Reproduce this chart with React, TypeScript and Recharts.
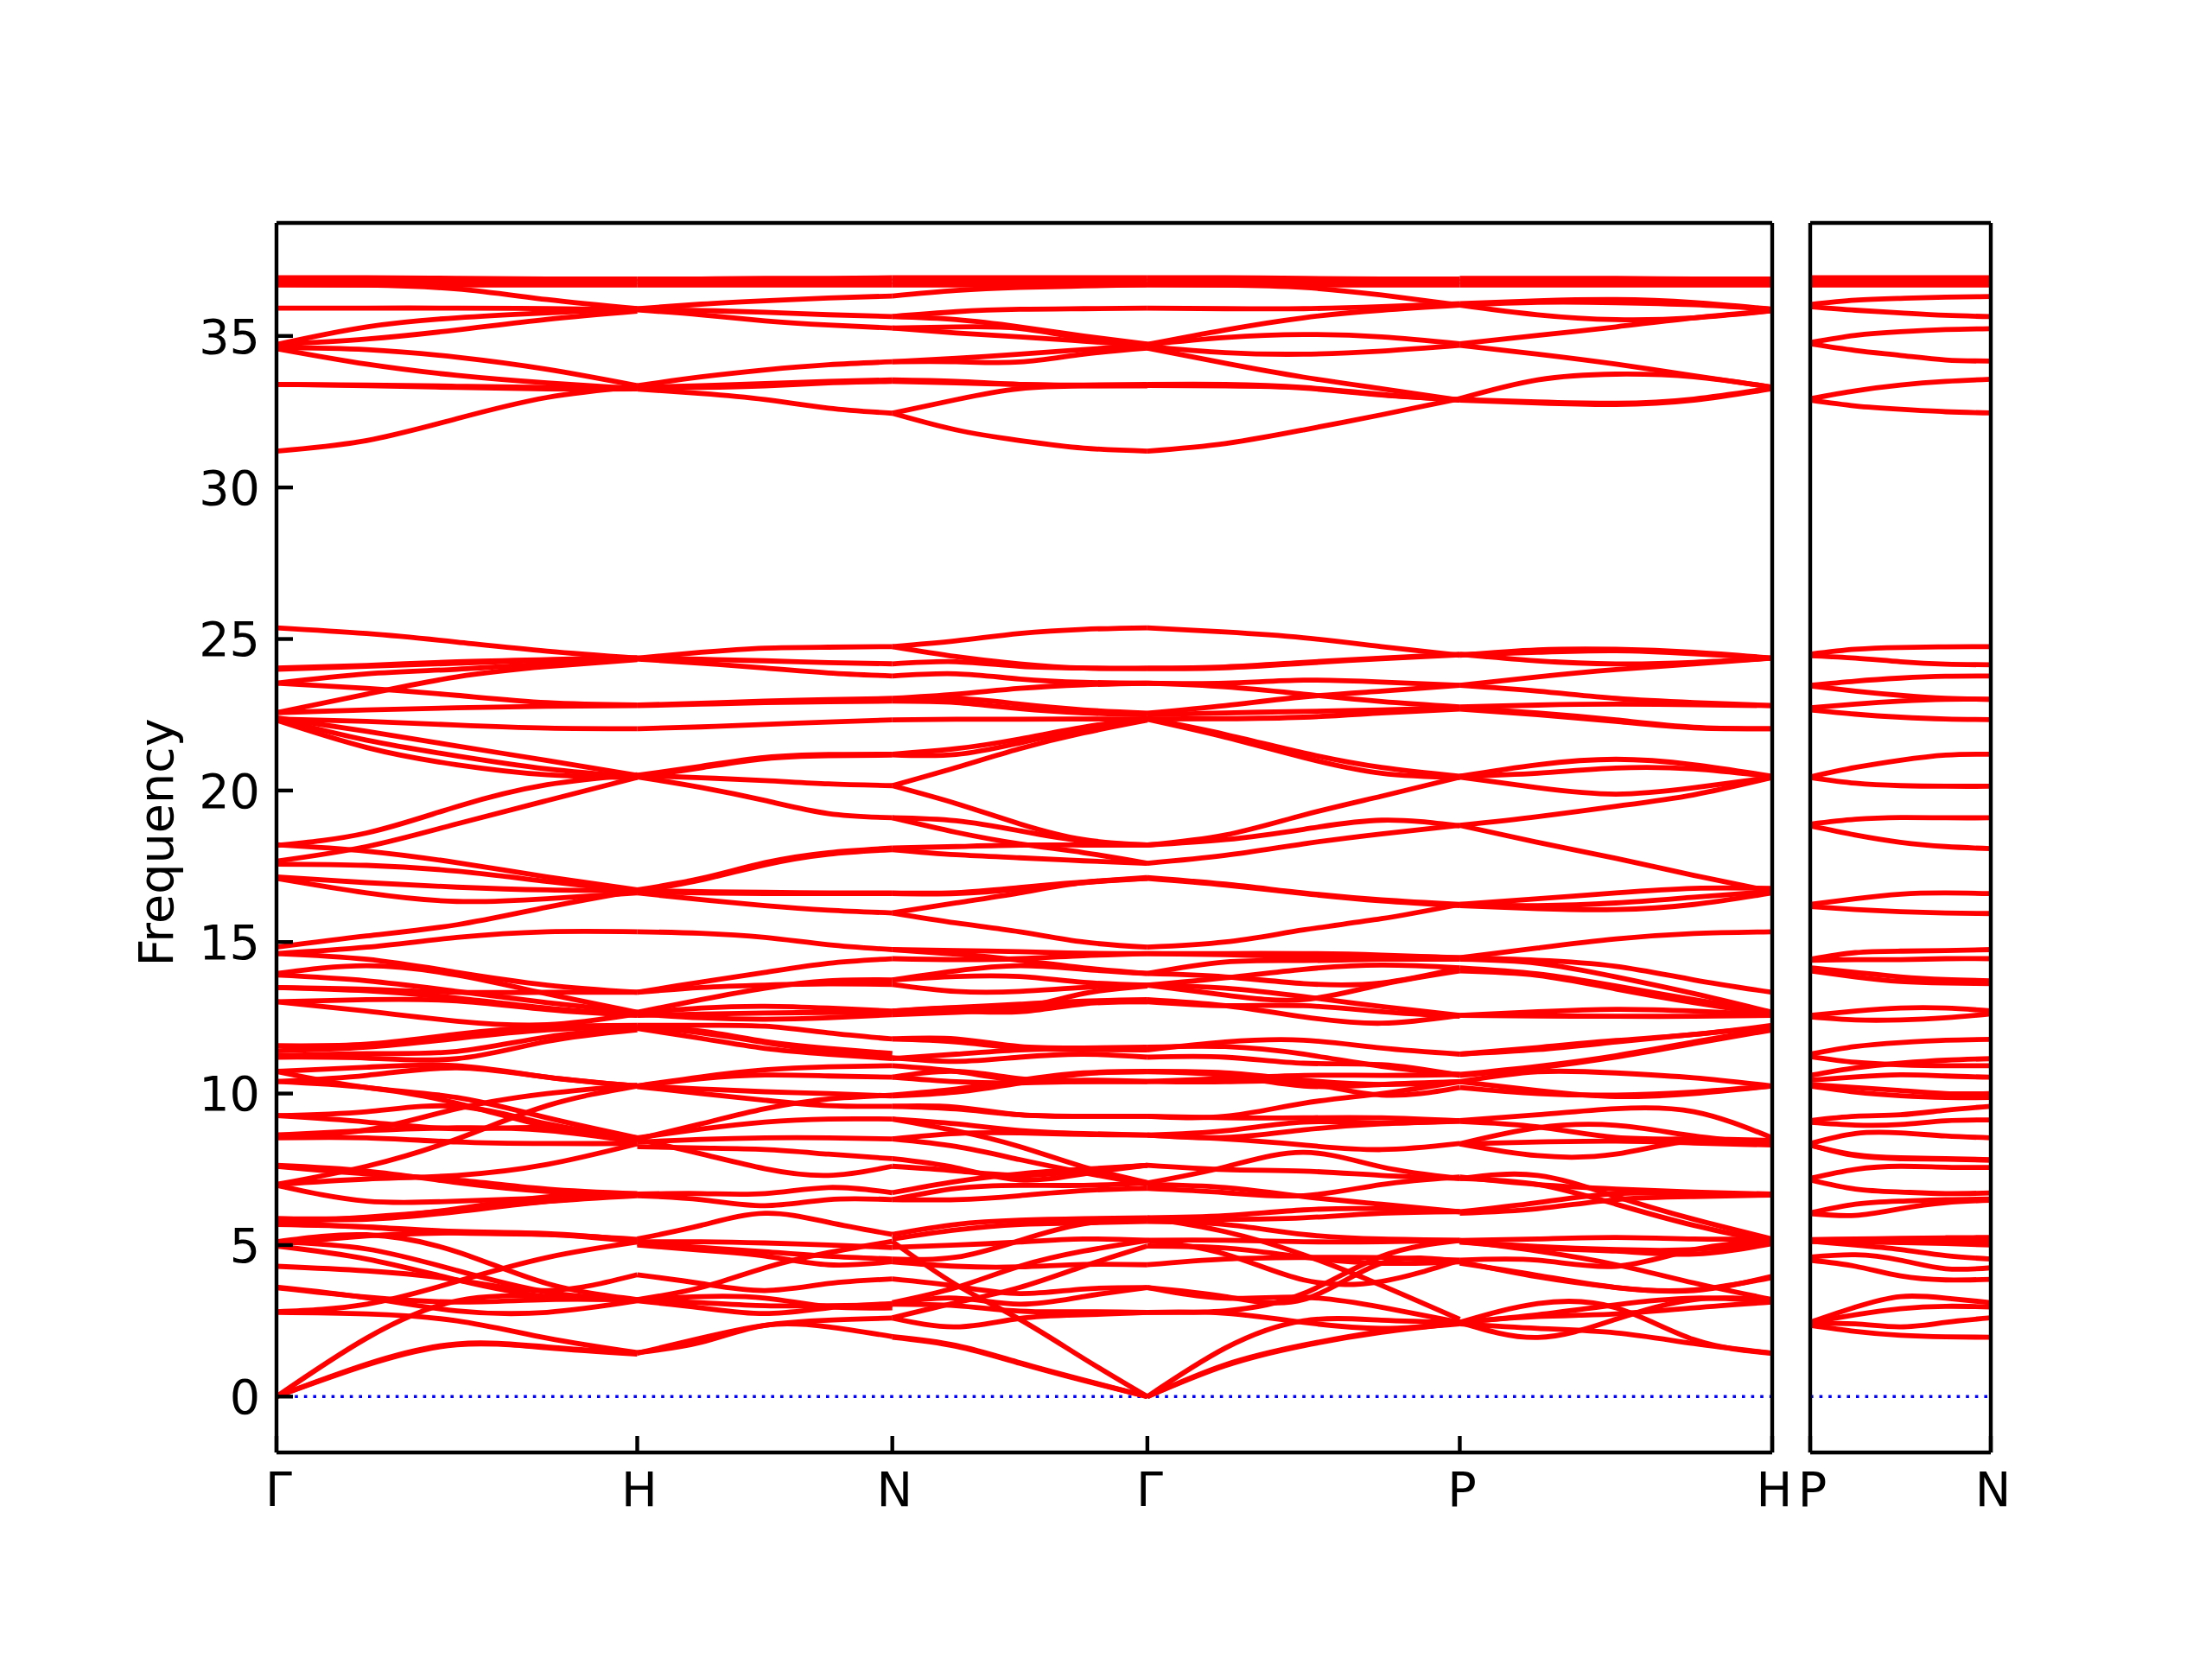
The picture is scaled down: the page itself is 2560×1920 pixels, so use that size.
import { LineChart, Line, XAxis, YAxis, Label } from 'recharts'

// k-path distances (2pi/a units)
const mainTicks = [0, 1, 1.707, 2.414, 3.28, 4.146]
const mainLabels = ['Γ', 'H', 'N', 'Γ', 'P', 'H']
const sideTicks = [0, 0.5]
const sideLabels = ['P', 'N']
const freqTicks = [0, 5, 10, 15, 20, 25, 30, 35]

const kGammaH = [0, 0.25, 0.5, 0.75, 1]
const kHN = [1, 1.177, 1.354, 1.53, 1.707]
const kNGamma = [1.707, 1.884, 2.06, 2.237, 2.414]
const kGammaP = [2.414, 2.63, 2.847, 3.063, 3.28]
const kPH = [3.28, 3.496, 3.713, 3.929, 4.146]
const kPN = [0, 0.125, 0.25, 0.375, 0.5]

const bandsGammaH = [
  [36.92, 36.92, 36.9, 36.88, 36.88], [36.8, 36.8, 36.8, 36.8, 36.8], [36.68, 36.68, 36.68, 36.68, 36.68], [36.7, 36.68, 36.55, 36.2, 35.9],
  [35.92, 35.92, 35.92, 35.9, 35.87], [34.72, 35.3, 35.6, 35.76, 35.9], [34.72, 34.9, 35.2, 35.55, 35.82],
  [34.62, 34.55, 34.3, 33.9, 33.36], [34.58, 34.07, 33.7, 33.45, 33.26], [33.4, 33.36, 33.3, 33.25, 33.25],
  [33.4, 33.38, 33.34, 33.3, 33.3], [31.2, 31.55, 32.27, 32.97, 33.33],
  [25.37, 25.18, 24.9, 24.6, 24.37], [24.04, 24.13, 24.25, 24.32, 24.38], [24.0, 24.1, 24.2, 24.3, 24.36],
  [23.54, 23.85, 24.0, 24.18, 24.33], [22.57, 23.18, 23.75, 24.09, 24.32], [23.54, 23.37, 23.14, 22.9, 22.82],
  [22.57, 22.66, 22.73, 22.78, 22.8], [22.36, 22.28, 22.16, 22.06, 22.04], [22.4, 21.95, 21.47, 20.99, 20.5],
  [22.36, 21.66, 21.14, 20.71, 20.45], [22.32, 21.42, 20.85, 20.52, 20.42], [18.19, 18.6, 19.47, 20.19, 20.52],
  [17.67, 18.15, 18.9, 19.67, 20.43], [18.21, 18.0, 17.62, 17.15, 16.72], [17.57, 17.53, 17.34, 17.0, 16.67],
  [17.15, 16.96, 16.81, 16.72, 16.7], [17.1, 16.62, 16.34, 16.43, 16.62], [14.83, 15.2, 15.57, 16.15, 16.7],
  [14.62, 14.83, 15.15, 15.34, 15.34], [14.62, 14.43, 14.0, 13.58, 13.34], [13.96, 14.22, 13.91, 13.29, 12.68],
  [13.91, 13.72, 13.37, 13.0, 12.68], [13.5, 13.44, 13.34, 13.34, 13.34], [13.5, 13.39, 13.15, 12.82, 12.58],
  [13.03, 13.1, 13.06, 12.77, 12.58], [13.03, 12.72, 12.39, 12.27, 12.63], [11.58, 11.63, 11.96, 12.2, 12.25],
  [11.41, 11.53, 11.82, 12.1, 12.2], [11.25, 11.32, 11.39, 11.87, 12.15], [11.2, 11.17, 11.15, 11.72, 12.1],
  [10.73, 10.87, 10.92, 10.54, 10.25], [10.4, 10.6, 10.85, 10.54, 10.25], [10.73, 10.2, 9.87, 9.2, 8.54],
  [10.4, 10.2, 9.68, 8.92, 8.45], [9.27, 9.4, 9.58, 9.0, 8.54], [9.27, 9.06, 8.84, 8.87, 8.49],
  [8.63, 8.8, 9.5, 10.0, 10.28], [7.0, 7.6, 8.5, 9.6, 10.25], [8.63, 8.78, 8.87, 8.78, 8.4], [8.54, 8.54, 8.4, 8.35, 8.35],
  [7.0, 7.18, 7.3, 7.66, 8.34], [6.97, 6.45, 6.45, 6.55, 6.67], [7.63, 7.44, 7.06, 6.77, 6.68], [7.6, 7.35, 7.15, 6.85, 6.7],
  [5.87, 5.9, 6.2, 6.59, 6.68], [5.73, 5.92, 6.16, 6.44, 6.63], [5.87, 5.85, 6.1, 6.44, 6.66], [5.68, 5.59, 5.4, 5.35, 5.11],
  [5.7, 5.6, 5.45, 5.38, 5.15], [5.03, 5.3, 5.4, 5.35, 5.19], [5.11, 5.34, 4.78, 3.73, 3.2], [5.11, 4.87, 4.16, 3.45, 3.19],
  [4.97, 4.54, 3.85, 3.3, 3.2], [4.3, 4.15, 3.85, 3.5, 4.02], [3.59, 3.28, 3.12, 3.2, 3.2], [3.61, 3.26, 2.83, 2.78, 3.16],
  [2.8, 3.05, 3.8, 4.59, 5.1], [2.78, 2.73, 2.5, 1.93, 1.45], [0, 1.93, 3.16, 3.3, 3.19], [0, 1.07, 1.74, 1.64, 1.43], [0, 1.04, 1.71, 1.61, 1.4],
]

const bandsHN = [
  [36.88, 36.88, 36.9, 36.9, 36.92], [36.8, 36.8, 36.8, 36.8, 36.8], [36.68, 36.68, 36.68, 36.68, 36.68], [35.9, 36.05, 36.16, 36.25, 36.32],
  [35.88, 35.84, 35.78, 35.7, 35.64], [35.86, 35.7, 35.5, 35.36, 35.26], [33.36, 33.65, 33.88, 34.05, 34.15],
  [33.3, 33.36, 33.43, 33.5, 33.55], [33.28, 33.3, 33.35, 33.45, 33.5], [33.25, 33.1, 32.9, 32.62, 32.45],
  [24.37, 24.56, 24.7, 24.73, 24.75], [24.37, 24.33, 24.28, 24.22, 24.18], [24.34, 24.2, 24.04, 23.88, 23.78],
  [22.82, 22.88, 22.95, 23.0, 23.04], [22.8, 22.85, 22.9, 22.93, 22.95], [22.04, 22.1, 22.18, 22.26, 22.33],
  [20.5, 20.8, 21.09, 21.19, 21.2], [20.45, 20.75, 21.05, 21.15, 21.17], [20.5, 20.42, 20.33, 20.22, 20.16],
  [20.45, 20.1, 19.67, 19.24, 19.1], [16.72, 17.1, 17.62, 17.95, 18.1], [16.67, 17.05, 17.55, 17.9, 18.05],
  [16.7, 16.66, 16.64, 16.62, 16.62], [16.65, 16.62, 16.6, 16.6, 16.6], [16.62, 16.4, 16.2, 16.05, 15.96],
  [15.34, 15.29, 15.15, 14.91, 14.75], [13.34, 13.68, 14.0, 14.3, 14.45], [12.68, 13.1, 13.48, 13.72, 13.75],
  [13.34, 13.5, 13.58, 13.62, 13.6], [12.65, 12.82, 12.88, 12.82, 12.72], [12.63, 12.5, 12.45, 12.5, 12.6], [12.58, 12.62, 12.66, 12.67, 12.67],
  [12.15, 11.82, 11.49, 11.3, 11.15], [12.2, 12.0, 11.68, 11.39, 11.18], [12.25, 12.25, 12.22, 12.0, 11.8], [12.2, 12.06, 11.72, 11.49, 11.32],
  [10.25, 10.49, 10.61, 10.58, 10.54], [10.25, 10.55, 10.78, 10.88, 10.92], [10.23, 10.0, 9.78, 9.6, 9.58], [10.25, 10.15, 10.06, 10.0, 9.92],
  [8.5, 9.0, 9.5, 9.82, 9.95], [8.54, 8.83, 9.06, 9.16, 9.16], [8.4, 8.49, 8.54, 8.54, 8.5],
  [8.49, 8.01, 7.52, 7.3, 7.6], [8.25, 8.2, 8.15, 8.0, 7.85],
  [6.68, 6.7, 6.7, 6.9, 6.73], [6.63, 6.5, 6.3, 6.5, 6.5], [5.2, 5.65, 6.05, 5.75, 5.35], [5.11, 5.11, 5.07, 5.0, 4.92],
  [5.05, 4.92, 4.78, 4.63, 4.54], [5.0, 4.83, 4.64, 4.35, 4.45], [3.2, 3.6, 4.25, 4.75, 5.12], [4.02, 3.73, 3.5, 3.73, 3.88],
  [3.16, 2.93, 2.74, 2.93, 3.07], [3.2, 3.3, 3.25, 2.97, 2.93], [3.19, 3.1, 3.0, 3.0, 3.02], [1.45, 1.79, 2.35, 2.3, 1.98], [1.43, 1.93, 2.35, 2.52, 2.59],
]

const bandsNGamma = [
  [36.92, 36.92, 36.92, 36.92, 36.92], [36.8, 36.8, 36.8, 36.8, 36.8], [36.68, 36.68, 36.68, 36.68, 36.68], [36.32, 36.5, 36.6, 36.65, 36.7],
  [35.64, 35.8, 35.88, 35.9, 35.92], [35.64, 35.54, 35.3, 35.0, 34.73], [35.26, 35.3, 35.25, 34.92, 34.72],
  [35.26, 35.1, 34.97, 34.83, 34.68], [34.15, 34.26, 34.4, 34.55, 34.7], [34.15, 34.15, 34.14, 34.4, 34.6],
  [33.55, 33.5, 33.4, 33.38, 33.4], [33.5, 33.45, 33.4, 33.36, 33.35], [32.45, 32.9, 33.26, 33.35, 33.37], [32.45, 31.9, 31.55, 31.3, 31.2],
  [24.75, 24.94, 25.18, 25.32, 25.37], [24.75, 24.42, 24.18, 24.04, 24.04], [24.18, 24.25, 24.1, 24.04, 24.02],
  [23.78, 23.85, 23.68, 23.57, 23.54], [23.04, 23.18, 23.37, 23.49, 23.54], [23.0, 23.04, 22.85, 22.66, 22.55],
  [22.95, 22.9, 22.7, 22.56, 22.5], [22.33, 22.35, 22.35, 22.36, 22.36], [21.2, 21.38, 21.7, 22.09, 22.38], [21.18, 21.19, 21.57, 22.0, 22.35],
  [20.16, 20.76, 21.38, 21.9, 22.32], [19.1, 19.0, 18.67, 18.33, 18.2], [19.1, 18.62, 18.24, 17.95, 17.6], [20.16, 19.57, 18.9, 18.38, 18.2],
  [18.1, 18.15, 18.2, 18.2, 18.2], [18.05, 17.88, 17.78, 17.68, 17.6], [16.62, 16.63, 16.8, 16.98, 17.13], [16.6, 16.6, 16.75, 16.96, 17.1],
  [15.96, 16.29, 16.62, 16.96, 17.1], [15.96, 15.63, 15.34, 15.0, 14.83],
  [14.75, 14.72, 14.68, 14.63, 14.62], [14.45, 14.42, 14.45, 14.55, 14.62], [14.75, 14.6, 14.4, 14.15, 13.96], [13.75, 14.05, 14.22, 14.1, 13.96],
  [13.75, 13.86, 13.86, 13.67, 13.58], [13.6, 13.37, 13.37, 13.5, 13.58], [12.72, 12.83, 12.85, 13.3, 13.55], [12.72, 12.84, 12.95, 13.05, 13.1],
  [12.67, 12.72, 12.7, 12.96, 13.03], [12.6, 12.68, 12.8, 13.0, 13.03], [11.8, 11.8, 11.55, 11.5, 11.46], [11.8, 11.7, 11.5, 11.45, 11.44],
  [11.15, 11.3, 11.44, 11.5, 11.53], [11.18, 11.06, 11.2, 11.3, 11.2], [10.92, 10.73, 10.44, 10.44, 10.39], [10.54, 10.73, 10.49, 10.39, 10.4],
  [10.54, 10.39, 10.35, 10.4, 10.4], [9.95, 10.15, 10.44, 10.68, 10.73], [9.92, 10.05, 10.35, 10.65, 10.72],
  [9.58, 9.55, 9.3, 9.25, 9.25], [9.58, 9.49, 9.3, 9.25, 9.25], [9.16, 8.77, 8.25, 7.58, 7.06], [9.16, 9.0, 8.78, 8.68, 8.63], [8.5, 8.68, 8.7, 8.65, 8.63],
  [8.5, 8.25, 7.82, 7.39, 7.0], [7.85, 7.55, 7.15, 7.35, 7.63], [7.6, 7.45, 7.3, 7.45, 7.63], [6.73, 7.1, 7.35, 7.5, 7.63], [6.5, 6.87, 6.97, 6.97, 7.05], [6.5, 6.5, 6.63, 6.8, 6.87],
  [5.35, 5.68, 5.82, 5.87, 5.9], [5.2, 5.5, 5.68, 5.73, 5.78], [4.54, 4.6, 5.15, 5.7, 5.86], [4.92, 5.0, 5.1, 5.2, 5.16], [4.45, 4.3, 4.28, 4.36, 4.35],
  [3.1, 3.6, 4.3, 4.8, 5.15], [2.6, 3.1, 3.6, 4.3, 4.97], [3.88, 3.64, 3.4, 3.55, 3.6], [3.07, 3.25, 3.05, 3.3, 3.6],
  [3.05, 3.0, 2.82, 2.8, 2.78], [2.59, 2.3, 2.58, 2.7, 2.78], [5.12, 3.69, 2.55, 1.26, 0], [1.98, 1.69, 1.12, 0.55, 0], [1.96, 1.66, 1.1, 0.53, 0],
]

const bandsGammaP = [
  [36.92, 36.92, 36.9, 36.88, 36.88], [36.8, 36.8, 36.8, 36.8, 36.8], [36.68, 36.68, 36.68, 36.68, 36.68], [36.7, 36.68, 36.6, 36.35, 36.02],
  [35.92, 35.9, 35.9, 35.97, 36.07], [34.72, 35.2, 35.6, 35.85, 36.02], [34.72, 34.95, 35.05, 34.97, 34.74],
  [34.65, 34.45, 34.4, 34.5, 34.69], [34.6, 34.1, 33.64, 33.26, 32.88], [33.4, 33.4, 33.3, 33.07, 32.88],
  [33.37, 33.35, 33.28, 33.05, 32.9], [31.2, 31.45, 31.9, 32.4, 32.93],
  [25.37, 25.23, 25.04, 24.75, 24.46], [24.04, 24.08, 24.23, 24.37, 24.5], [24.02, 24.05, 24.2, 24.35, 24.48],
  [23.54, 23.54, 23.64, 23.58, 23.47], [23.54, 23.42, 23.18, 22.94, 22.76], [22.55, 22.8, 23.09, 23.28, 23.47],
  [22.5, 22.56, 22.61, 22.66, 22.73], [22.36, 22.37, 22.42, 22.56, 22.69], [22.38, 21.85, 21.24, 20.76, 20.47], [22.35, 21.76, 21.09, 20.57, 20.43],
  [18.2, 18.53, 19.19, 19.81, 20.44], [18.2, 18.38, 18.72, 19.02, 18.83], [17.6, 17.86, 18.24, 18.57, 18.85],
  [17.13, 16.91, 16.62, 16.39, 16.24], [17.1, 16.88, 16.6, 16.36, 16.2], [14.83, 15.0, 15.4, 15.77, 16.24],
  [14.62, 14.58, 14.53, 14.53, 14.48], [14.62, 14.62, 14.62, 14.57, 14.48], [13.96, 14.34, 14.39, 14.43, 14.43], [13.96, 13.85, 13.63, 13.65, 14.14],
  [13.58, 13.82, 14.1, 14.24, 14.15], [13.58, 13.48, 13.2, 12.87, 12.58], [13.58, 13.25, 13.1, 13.6, 14.05], [13.1, 12.9, 12.53, 12.32, 12.58], [13.03, 12.9, 12.9, 12.7, 12.55],
  [11.44, 11.7, 11.76, 11.5, 11.3], [11.53, 11.55, 11.3, 10.9, 10.63], [11.2, 11.2, 11.0, 10.95, 10.6], [10.4, 10.5, 10.6, 10.6, 10.63], [10.4, 10.39, 10.35, 9.95, 10.2],
  [10.73, 10.68, 10.44, 10.3, 10.39], [10.72, 10.6, 10.25, 10.3, 10.39], [9.25, 9.25, 9.68, 10.0, 10.39], [9.25, 9.2, 9.2, 9.2, 9.1],
  [8.63, 8.77, 9.06, 9.03, 9.11], [8.63, 8.55, 8.8, 9.0, 9.08], [8.63, 8.5, 8.3, 8.15, 8.35],
  [7.63, 7.49, 7.44, 7.3, 7.2], [7.05, 7.58, 8.06, 7.58, 7.2], [6.87, 6.73, 6.63, 7.0, 7.25], [7.0, 6.9, 6.6, 6.35, 6.1],
  [5.9, 5.97, 6.16, 6.2, 6.1], [5.86, 5.85, 5.9, 6.05, 6.1], [5.78, 5.68, 5.35, 5.2, 5.16], [5.16, 5.16, 5.11, 5.11, 5.15],
  [5.9, 5.44, 4.68, 3.67, 2.55], [5.15, 4.7, 3.85, 3.8, 4.5], [4.97, 4.9, 4.6, 4.4, 4.45], [4.35, 4.54, 4.59, 4.59, 4.5], [2.78, 2.83, 3.4, 4.63, 5.15],
  [2.78, 2.75, 2.45, 2.25, 2.4], [3.6, 3.25, 3.28, 2.95, 2.45], [3.6, 3.3, 3.2, 4.4, 4.45], [0, 1.6, 2.5, 2.52, 2.45], [0, 1.05, 1.7, 2.15, 2.45], [0, 1.02, 1.68, 2.12, 2.43],
]

const bandsPH = [
  [36.9, 36.9, 36.9, 36.88, 36.88], [36.8, 36.8, 36.8, 36.8, 36.8], [36.68, 36.68, 36.68, 36.68, 36.68], [36.02, 35.7, 35.54, 35.6, 35.83], [36.07, 36.16, 36.2, 36.1, 35.88], [36.02, 36.11, 36.1, 36.03, 35.88],
  [34.74, 35.02, 35.3, 35.6, 35.83], [34.69, 34.4, 34.07, 33.69, 33.31], [32.93, 33.55, 33.74, 33.65, 33.31], [32.88, 32.79, 32.74, 32.88, 33.26], [32.9, 32.82, 32.78, 32.92, 33.28],
  [24.46, 24.64, 24.66, 24.56, 24.37], [24.5, 24.28, 24.18, 24.23, 24.37], [24.48, 24.56, 24.61, 24.51, 24.37], [23.47, 23.75, 23.99, 24.18, 24.37],
  [23.47, 23.28, 23.04, 22.9, 22.8], [22.76, 22.82, 22.85, 22.83, 22.8], [22.73, 22.56, 22.33, 22.09, 22.04], [22.69, 22.5, 22.28, 22.07, 22.04],
  [20.47, 20.85, 21.03, 20.85, 20.47], [20.47, 20.57, 20.74, 20.71, 20.45], [20.44, 20.09, 19.88, 20.09, 20.43], [18.85, 19.14, 19.48, 19.86, 20.43], [18.85, 18.29, 17.76, 17.2, 16.67],
  [16.24, 16.43, 16.62, 16.77, 16.77], [16.24, 16.2, 16.29, 16.48, 16.67], [16.2, 16.1, 16.07, 16.24, 16.62],
  [14.48, 14.8, 15.1, 15.28, 15.34], [14.48, 14.4, 14.2, 13.75, 13.34], [14.43, 14.3, 13.85, 13.3, 12.68], [14.15, 13.95, 13.55, 13.1, 12.68], [14.05, 13.9, 13.45, 13.0, 12.6],
  [12.58, 12.7, 12.78, 12.72, 12.6], [12.58, 12.56, 12.55, 12.55, 12.58], [11.3, 11.52, 11.75, 11.95, 12.25], [11.3, 11.45, 11.7, 11.95, 12.2],
  [10.63, 10.9, 11.25, 11.7, 12.15], [10.6, 10.85, 11.2, 11.65, 12.1], [10.39, 10.1, 9.9, 10.0, 10.25], [10.39, 10.72, 10.68, 10.52, 10.25], [10.2, 10.0, 9.95, 10.05, 10.25],
  [9.11, 9.3, 9.5, 9.4, 8.54], [9.08, 8.9, 8.55, 8.5, 8.45], [8.34, 8.87, 8.95, 8.6, 8.34], [8.34, 7.95, 8.0, 8.45, 8.34], [8.34, 8.4, 8.43, 8.37, 8.3],
  [7.25, 7.0, 6.85, 6.75, 6.68], [7.2, 7.3, 6.6, 5.85, 5.2], [7.2, 7.0, 6.35, 5.65, 5.1], [6.1, 6.4, 6.7, 6.7, 6.68], [6.05, 6.2, 6.5, 6.6, 6.65],
  [5.15, 5.2, 5.25, 5.2, 5.2], [5.1, 4.95, 4.85, 4.85, 5.1], [5.1, 4.9, 4.8, 4.7, 5.05], [4.5, 4.5, 4.3, 4.85, 5.15], [4.45, 3.95, 3.6, 3.5, 3.97], [4.4, 4.0, 3.6, 3.52, 3.93],
  [5.15, 4.8, 4.35, 3.75, 3.2], [2.45, 3.07, 2.93, 1.88, 1.43], [2.45, 2.64, 2.73, 2.93, 3.12], [2.45, 2.7, 3.03, 3.25, 3.15], [2.45, 1.95, 2.55, 3.2, 3.18], [2.4, 2.25, 2.1, 1.75, 1.43],
]

const bandsPN = [
  [36.92, 36.92, 36.92, 36.92, 36.92], [36.8, 36.8, 36.8, 36.8, 36.8], [36.68, 36.68, 36.68, 36.68, 36.68], [36.04, 36.18, 36.24, 36.28, 36.3], [35.97, 35.85, 35.76, 35.68, 35.64],
  [34.78, 35.02, 35.14, 35.21, 35.24], [34.74, 34.52, 34.36, 34.21, 34.17], [32.93, 33.19, 33.38, 33.5, 33.57], [32.88, 32.69, 32.58, 32.5, 32.46],
  [24.5, 24.66, 24.72, 24.74, 24.75], [24.45, 24.37, 24.25, 24.17, 24.15], [23.47, 23.61, 23.71, 23.77, 23.78], [23.45, 23.28, 23.14, 23.04, 23.01],
  [22.73, 22.85, 22.95, 23.01, 23.01], [22.66, 22.52, 22.42, 22.36, 22.34], [20.45, 20.76, 21.0, 21.17, 21.2], [20.43, 20.24, 20.16, 20.14, 20.14],
  [18.89, 19.05, 19.11, 19.1, 19.1], [18.83, 18.53, 18.29, 18.15, 18.08], [16.24, 16.43, 16.58, 16.62, 16.6], [16.17, 16.07, 16.0, 15.96, 15.94],
  [14.43, 14.65, 14.7, 14.72, 14.75], [14.4, 14.42, 14.42, 14.45, 14.45], [14.15, 14.0, 13.85, 13.76, 13.72], [14.05, 13.85, 13.7, 13.65, 13.63],
  [12.58, 12.72, 12.82, 12.82, 12.73], [12.53, 12.43, 12.43, 12.5, 12.63], [11.3, 11.55, 11.68, 11.76, 11.79], [11.22, 11.03, 10.95, 10.92, 10.92],
  [10.6, 10.85, 11.0, 11.1, 11.15], [10.44, 10.55, 10.62, 10.58, 10.54], [10.3, 10.2, 10.1, 10.0, 10.0], [10.25, 10.05, 9.93, 9.87, 9.87],
  [9.11, 9.25, 9.3, 9.45, 9.58], [9.05, 8.96, 8.98, 9.1, 9.13], [8.35, 8.68, 8.7, 8.6, 8.54], [8.3, 7.95, 7.85, 7.83, 7.8], [8.3, 7.98, 7.88, 7.85, 7.82],
  [7.2, 7.5, 7.6, 7.57, 7.56], [7.15, 6.85, 6.75, 6.7, 6.72], [6.06, 6.35, 6.45, 6.5, 6.52], [6.04, 5.98, 6.2, 6.4, 6.48],
  [5.18, 5.2, 5.22, 5.24, 5.25], [5.15, 5.15, 5.15, 5.15, 5.15], [5.12, 5.1, 5.08, 5.05, 5.0], [5.13, 5.0, 4.85, 4.65, 4.54],
  [4.6, 4.68, 4.5, 4.22, 4.25], [4.5, 4.3, 3.98, 3.85, 3.87], [2.45, 2.95, 3.3, 3.25, 3.1], [2.45, 2.7, 2.9, 2.98, 2.96], [2.4, 2.4, 2.3, 2.45, 2.6], [2.35, 2.15, 2.02, 1.97, 1.96],
]

const zeroLineMain = [0, 4.146]
const zeroLineSide = [0, 0.5]

const toRows = (xs: number[], ys: number[]) => xs.map((x, i) => ({ x, y: ys[i] }))

const mainSegments: [number[], number[][]][] = [
  [kGammaH, bandsGammaH],
  [kHN, bandsHN],
  [kNGamma, bandsNGamma],
  [kGammaP, bandsGammaP],
  [kPH, bandsPH],
]
const sideSegments: [number[], number[][]][] = [[kPN, bandsPN]]

const FONT = 'DejaVu Sans'
const FONT_SIZE = 55.6
const TICK_LEN = 19
const AXIS_W = 4.4
const tickStyle = { fontFamily: FONT, fontSize: FONT_SIZE, fill: '#000' }
const lineStyle = { stroke: '#000', strokeWidth: AXIS_W }

function BandPanel({ left, right, domainX, ticks, labels, segments, zeroX, showY }: any) {
  return (
    <div style={{ position: 'absolute', left: 0, top: 0 }}>
      {/* axes need a non-zero size to draw, so 1px of each margin goes to them */}
      <LineChart width={2560} height={1920} margin={{ top: 257, bottom: 238, left: left - 1, right: 2560 - right - 1 }}>
        <XAxis
          xAxisId="b"
          type="number"
          dataKey="x"
          domain={domainX}
          ticks={ticks}
          height={1}
          orientation="bottom"
          interval={0}
          allowDataOverflow
          axisLine={lineStyle}
          tickLine={lineStyle}
          tickSize={-TICK_LEN}
          tickMargin={TICK_LEN + 23}
          tick={{ ...tickStyle, dx: 2.5 }}
          tickFormatter={(v: number) => labels[ticks.indexOf(v)]}
        />
        <XAxis
          xAxisId="t"
          type="number"
          dataKey="x"
          domain={domainX}
          ticks={ticks}
          height={1}
          orientation="top"
          interval={0}
          allowDataOverflow
          axisLine={lineStyle}
          tickLine={lineStyle}
          tickSize={-TICK_LEN}
          tick={false}
        />
        <YAxis
          yAxisId="l"
          type="number"
          domain={[-1.845, 38.73]}
          ticks={freqTicks}
          width={1}
          interval={0}
          allowDataOverflow
          axisLine={lineStyle}
          tickLine={lineStyle}
          tickSize={-TICK_LEN}
          tickMargin={TICK_LEN + 19}
          tick={showY ? tickStyle : false}
        >
          {showY && (
            <Label
              content={() => (
                <text
                  transform="translate(180,975) rotate(-90)"
                  textAnchor="middle"
                  dominantBaseline="central"
                  style={{ fontFamily: FONT, fontSize: FONT_SIZE, fill: '#000' }}
                >
                  Frequency
                </text>
              )}
            />
          )}
        </YAxis>
        <YAxis
          yAxisId="r"
          type="number"
          orientation="right"
          domain={[-1.845, 38.73]}
          ticks={freqTicks}
          width={1}
          interval={0}
          allowDataOverflow
          axisLine={lineStyle}
          tickLine={lineStyle}
          tickSize={-TICK_LEN}
          tick={false}
        />
        <Line
          xAxisId="b"
          yAxisId="l"
          data={toRows(zeroX, [0, 0])}
          dataKey="y"
          dot={false}
          stroke="#0000ff"
          strokeWidth={3.4}
          strokeDasharray="3.6 7"
          isAnimationActive={false}
        />
        {segments.flatMap(([xs, bands]: [number[], number[][]], s: number) =>
          bands.map((ys, b) => (
            <Line
              key={`${s}-${b}`}
              xAxisId="b"
              yAxisId="l"
              type="natural"
              data={toRows(xs, ys)}
              dataKey="y"
              dot={false}
              stroke="#ff0000"
              strokeWidth={5.8}
              isAnimationActive={false}
            />
          )),
        )}
      </LineChart>
    </div>
  )
}

export default function App() {
  return (
    <div style={{ position: 'absolute', left: 0, top: 0, width: 2560, height: 1920, background: '#fff', overflow: 'hidden' }}>
      <BandPanel left={320} right={2051} domainX={[0, 4.146]} ticks={mainTicks} labels={mainLabels} segments={mainSegments} zeroX={zeroLineMain} showY />
      <BandPanel left={2095} right={2304} domainX={[0, 0.5]} ticks={sideTicks} labels={sideLabels} segments={sideSegments} zeroX={zeroLineSide} showY={false} />
    </div>
  )
}
